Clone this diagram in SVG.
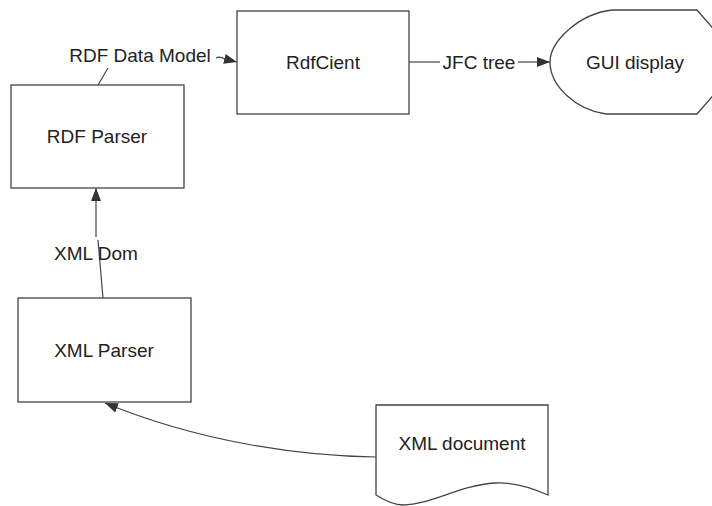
<svg xmlns="http://www.w3.org/2000/svg" width="712" height="506" viewBox="0 0 712 506">
<style>
.box{fill:#fff;stroke:#444;stroke-width:1.3}
.lbl{font-family:"Liberation Sans",Arial,sans-serif;font-size:19px;fill:#222;text-anchor:middle;dominant-baseline:central}
.con{fill:none;stroke:#444;stroke-width:1.2}
</style>
<defs>
<marker id="ah" markerUnits="userSpaceOnUse" markerWidth="14" markerHeight="10" refX="13" refY="5" orient="auto">
<path d="M0,0 L13,5 L0,10 z" fill="#333"/>
</marker>
</defs>
<rect width="712" height="506" fill="#fff"/>
<g id="connectors">
<path class="con" d="M98,85 L108,68"/>
<path class="con" d="M216,58 Q220,56 225,59 L237,62" marker-end="url(#ah)"/>
<path class="con" d="M409,62 L440,62"/>
<path class="con" d="M518,62 L550,62" marker-end="url(#ah)"/>
<path class="con" d="M103,298 L98,240"/>
<path class="con" d="M96,237 L96,188" marker-end="url(#ah)"/>
<path class="con" d="M376,457 C300,456 200,442 105,403" marker-end="url(#ah)"/>
<text class="lbl" x="140" y="55">RDF Data Model</text>
<text class="lbl" x="479" y="62">JFC tree</text>
<text class="lbl" x="96" y="253">XML Dom</text>
</g>
<g id="rdfclient">
<rect class="box" x="237" y="11" width="172" height="103"/>
<text class="lbl" x="323" y="62">RdfCient</text>
</g>
<g id="gui">
<path class="box" d="M697,10 L612,10 C578,14 550,42 550,62 C550,86 576,110 606,114 L697,114 L718,90 L718,34 z"/>
<text class="lbl" x="635" y="62">GUI display</text>
</g>
<g id="rdfparser">
<rect class="box" x="11" y="85" width="173" height="103"/>
<text class="lbl" x="97" y="136">RDF Parser</text>
</g>
<g id="xmlparser">
<rect class="box" x="18" y="298" width="173" height="104"/>
<text class="lbl" x="104" y="350">XML Parser</text>
</g>
<g id="xmldoc">
<path class="box" d="M376,405 L548,405 L548,495 C530,487 510,482 495,483 C460,485 430,505 403,505 C393,505 384,500 376,495 z"/>
<text class="lbl" x="462" y="443">XML document</text>
</g>
</svg>
